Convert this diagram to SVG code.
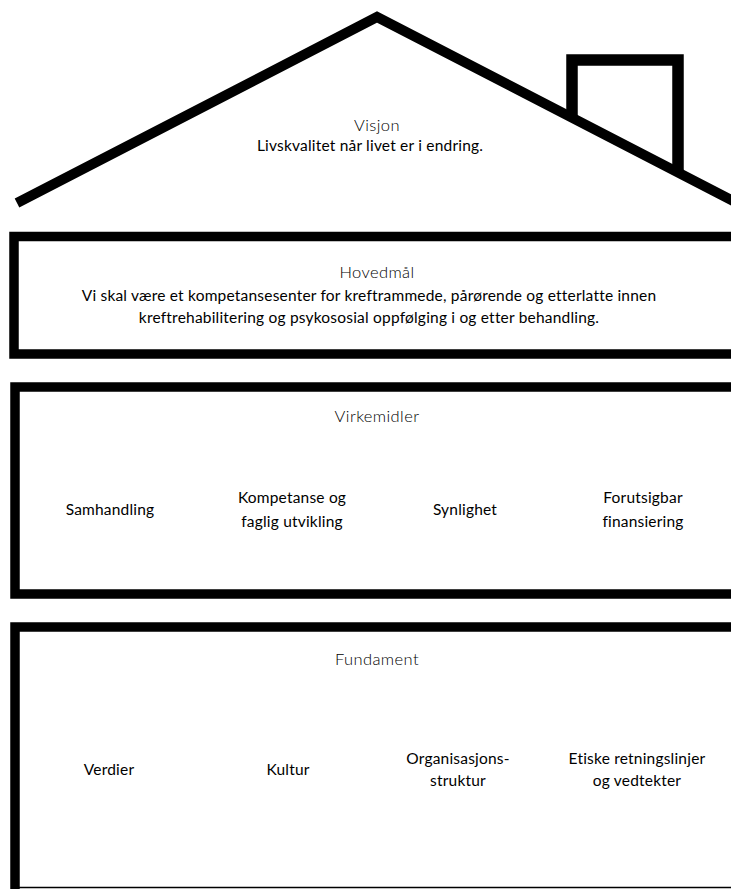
<svg xmlns="http://www.w3.org/2000/svg" width="731" height="889" viewBox="0 0 731 889">
<style>
.ln{fill:none;stroke:#000;stroke-width:10;stroke-linejoin:miter;stroke-linecap:butt}
.box{fill:none;stroke:#000;stroke-width:9.5}
.t{font-family:Lato,"Liberation Sans",sans-serif;font-size:15.5px;letter-spacing:0.2px;fill:#000;text-anchor:middle}
.h{font-family:Lato,"Liberation Sans",sans-serif;font-weight:300;font-size:16.5px;letter-spacing:0.4px;fill:#000;text-anchor:middle}
</style>
<rect width="731" height="889" fill="#fff"/>
<g id="roof">
<path class="ln" d="M17,203 L377,17 L735,202"/>
<path class="ln" style="stroke-width:11.5" d="M572,119 L572,60 L678,60 L678,174"/>
<text class="h" x="377" y="131">Visjon</text>
<text class="t" x="370" y="151">Livskvalitet når livet er i endring.</text>
</g>
<g id="hovedmal">
<path class="box" d="M740,236.5 L14,236.5 L14,354 L740,354"/>
<text class="h" x="377" y="278">Hovedmål</text>
<text class="t" x="369" y="301">Vi skal være et kompetansesenter for kreftrammede, pårørende og etterlatte innen</text>
<text class="t" x="369" y="323">kreftrehabilitering og psykososial oppfølging i og etter behandling.</text>
</g>
<g id="virkemidler">
<path class="box" d="M740,387 L15,387 L15,594 L740,594"/>
<text class="h" x="377" y="422">Virkemidler</text>
<text class="t" x="110" y="515">Samhandling</text>
<text class="t" x="292" y="503">Kompetanse og</text>
<text class="t" x="292" y="527">faglig utvikling</text>
<text class="t" x="465" y="515">Synlighet</text>
<text class="t" x="643" y="503">Forutsigbar</text>
<text class="t" x="643" y="527">finansiering</text>
</g>
<g id="fundament">
<path class="box" d="M740,627 L15,627 L15,889"/>
<line x1="15" y1="887.5" x2="731" y2="887.5" stroke="#000" stroke-width="1.5"/>
<text class="h" x="377" y="665">Fundament</text>
<text class="t" x="109" y="775">Verdier</text>
<text class="t" x="288" y="775">Kultur</text>
<text class="t" x="458" y="764">Organisasjons-</text>
<text class="t" x="458" y="786">struktur</text>
<text class="t" x="637" y="764">Etiske retningslinjer</text>
<text class="t" x="637" y="786">og vedtekter</text>
</g>
</svg>
